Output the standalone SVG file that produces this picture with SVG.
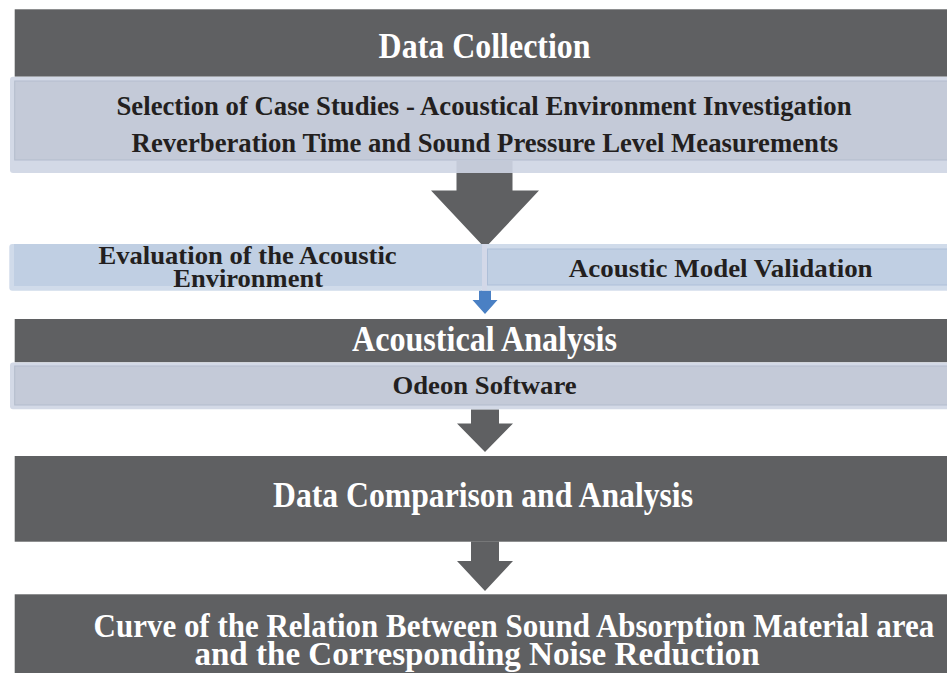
<svg xmlns="http://www.w3.org/2000/svg" width="947" height="673" viewBox="0 0 947 673">
  <style>
    .dark { fill: #5f6062; }
    .rim { fill: #d3d9e6; }
    .panel { fill: #c4cad8; stroke: #b3bccd; stroke-width: 1; }
    .bluerim { fill: #d0dbea; }
    .bluepanel { fill: #c0cfe3; stroke: #aebfd8; stroke-width: 1; }
    .arrow { fill: #5f6062; }
    .barrow { fill: #4a80c4; }
    text { font-family: "Liberation Serif", "Times New Roman", serif; font-weight: bold; }
    .w { fill: #ffffff; }
    .k { fill: #231f20; }
    .big { font-size: 36px; }
    .cur { font-size: 34px; }
    .mid { font-size: 28px; }
    .sm { font-size: 25px; }
  </style>

  <g id="connectors">
    <rect x="456.5" y="160" width="56" height="13" fill="#c4cad8"/>
    <path class="arrow" d="M456.5,173 H512.5 V190.5 H539 L485,248 L431,190.5 H456.5 Z"/>
    <path class="barrow" d="M479,290.5 H491 V300 H497.5 L485,314 L472.5,300 H479 Z"/>
    <rect x="471" y="405" width="28" height="4.5" fill="#c4cad8"/>
    <path class="arrow" d="M471,409.5 H499 V423.5 H513 L485,452 L457,423.5 H471 Z"/>
    <path class="arrow" d="M471,541.5 H499 V561 H513 L485,591 L457,561 H471 Z"/>
  </g>

  <g id="data-collection">
    <rect class="dark" x="14.7" y="9.3" width="932.3" height="67.4"/>
    <text class="w big" x="378.6" y="58.3" textLength="212" lengthAdjust="spacingAndGlyphs">Data Collection</text>
  </g>

  <g id="case-studies">
    <rect class="rim" x="10" y="76.7" width="945" height="96.3" rx="3"/>
    <rect class="panel" x="14.7" y="81" width="940" height="79"/>
    <rect x="456.5" y="160.5" width="56" height="12.5" fill="#c4cad8"/>
    <text class="k mid" x="116.5" y="115" textLength="735" lengthAdjust="spacingAndGlyphs">Selection of Case Studies - Acoustical Environment Investigation</text>
    <text class="k mid" x="131.6" y="151.5" textLength="706.6" lengthAdjust="spacingAndGlyphs">Reverberation Time and Sound Pressure Level Measurements</text>
  </g>

  <g id="evaluation">
    <rect class="bluerim" x="9.3" y="244" width="473" height="46.7" rx="3"/>
    <rect x="14" y="244" width="468" height="42" fill="#c0cfe3"/>
    <rect x="482" y="244" width="5" height="46.7" fill="#d3d8e8"/>
    <text class="k sm"><tspan x="98.4" y="264" textLength="298.3" lengthAdjust="spacingAndGlyphs">Evaluation of the Acoustic</tspan><tspan x="173.3" y="287.3" textLength="149.7" lengthAdjust="spacingAndGlyphs">Environment</tspan></text>
  </g>

  <g id="validation">
    <rect class="bluerim" x="487" y="244" width="470" height="46.7"/>
    <rect class="bluepanel" x="487.5" y="249" width="470" height="36"/>
    <text class="k sm" x="568.8" y="276.7" textLength="303.8" lengthAdjust="spacingAndGlyphs">Acoustic Model Validation</text>
  </g>

  <g id="acoustical-analysis">
    <rect class="dark" x="14.7" y="319" width="932.3" height="43.3"/>
    <text class="w big" x="352" y="350.7" textLength="265" lengthAdjust="spacingAndGlyphs">Acoustical Analysis</text>
  </g>

  <g id="odeon">
    <rect class="rim" x="10" y="362.5" width="945" height="46.8" rx="3"/>
    <rect class="panel" x="14.7" y="366" width="940" height="39"/>
    <text class="k sm" x="392.5" y="394" textLength="184.2" lengthAdjust="spacingAndGlyphs">Odeon Software</text>
  </g>

  <g id="comparison">
    <rect class="dark" x="14.7" y="456" width="932.3" height="85.7"/>
    <text class="w big" x="273" y="507.3" textLength="420" lengthAdjust="spacingAndGlyphs">Data Comparison and Analysis</text>
  </g>

  <g id="curve">
    <rect class="dark" x="14.7" y="594.3" width="932.3" height="78.7"/>
    <text class="w cur"><tspan x="93.6" y="636.5" textLength="840.6" lengthAdjust="spacingAndGlyphs">Curve of the Relation Between Sound Absorption Material area</tspan><tspan x="194.4" y="664.5" textLength="565.3" lengthAdjust="spacingAndGlyphs">and the Corresponding Noise Reduction</tspan></text>
  </g>
</svg>
